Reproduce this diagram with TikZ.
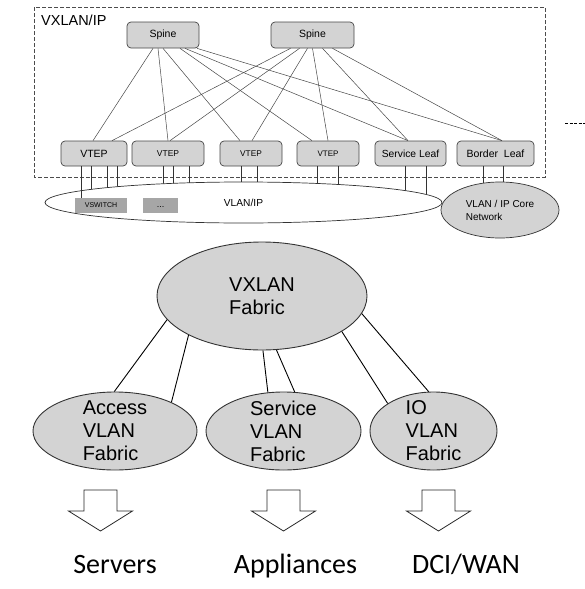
\documentclass[tikz,border=0pt]{standalone}
\usepackage{fontspec}
\setmainfont{Liberation Sans}
\newfontfamily\calibri{Carlito}
\usetikzlibrary{shapes.geometric}

\definecolor{boxgray}{RGB}{211,211,211}
\definecolor{swgray}{RGB}{166,166,166}
\definecolor{edgegray}{RGB}{70,70,70}
\newcommand{\fsz}[2]{\fontsize{#1}{#2}\selectfont}

\begin{document}
\begin{tikzpicture}[x=1pt, y=-1pt,
    switchbox/.style={draw=edgegray, fill=boxgray, rounded corners=4pt, inner sep=0pt, minimum height=26pt, line width=0.7pt},
    leafbox/.style={switchbox, minimum height=25pt},
    link/.style={draw=edgegray, line width=0.5pt},
    drop/.style={draw=black!80, line width=0.6pt},
    fabric/.style={ellipse, draw=black!80, fill=boxgray, line width=0.9pt, inner sep=0pt},
    fabtext/.style={align=left, font=\fsz{20}{23}},
    uplink/.style={draw=black, line width=0.9pt},
    bigarrow/.style={draw=black!85, fill=white, line width=0.8pt},
  ]
  \useasboundingbox (0,0) rectangle (585,589);

  % VXLAN/IP underlay
  \draw[draw=black!70, dash pattern=on 4pt off 2pt, line width=0.7pt] (34,7) rectangle (545,177);
  \node[anchor=base west, inner sep=0pt, font=\fsz{14.5}{16}] (title) at (41,25) {VXLAN/IP};
  \coordinate (cutA) at (565,123);
  \coordinate (cutB) at (585,123);
  \draw[dash pattern=on 3pt off 1.5pt, line width=0.7pt] (cutA) -- (cutB);

  \node[switchbox, minimum width=72pt, font=\fsz{10.5}{12}] (spineA) at (163,35) {Spine};
  \node[switchbox, minimum width=83pt, font=\fsz{10.5}{12}] (spineB) at (312.5,35) {Spine};

  \node[leafbox, minimum width=66pt, font=\fsz{10.5}{12}] (vtepA) at (94,153.5) {VTEP};
  \node[leafbox, minimum width=72pt, font=\fsz{8.5}{10}] (vtepB) at (168,153.5) {VTEP};
  \node[leafbox, minimum width=62pt, font=\fsz{8.3}{10}] (vtepC) at (251,153.5) {VTEP};
  \node[leafbox, minimum width=62pt, font=\fsz{8}{10}] (vtepD) at (328,153.5) {VTEP};
  \node[leafbox, minimum width=71pt, font=\fsz{10.3}{12}] (svcleaf) at (410.5,153.5) {Service Leaf};
  \node[leafbox, minimum width=77pt, font=\fsz{10.5}{12}] (bdrleaf) at (495.5,153.5) {Border~~Leaf};

  % full mesh spine -> leaf
  \foreach \leaf/\sa/\la/\sb/\lb in {vtepA/-10/-1/-22/18, vtepB/-5/0/-13/2, vtepC/0/-11/-5/1,
      vtepD/17/-16/0/0, svcleaf/22/-2.5/10/-2.5, bdrleaf/34/6.5/20/6.5} {
    \draw[link] ([xshift=\sa pt]spineA.south) -- ([xshift=\la pt]\leaf.north);
    \draw[link] ([xshift=\sb pt]spineB.south) -- ([xshift=\lb pt]\leaf.north);
  }

  % access ports, cut off by the ellipses below
  \coordinate (vlanc) at (243.5,202.5);
  \coordinate (corec) at (500,210);
  \foreach \leaf/\dx in {vtepA/-3, vtepA/13, vtepA/23, vtepB/-5, vtepB/5, vtepB/21,
      vtepC/-10, vtepC/6, vtepD/-11, vtepD/10, svcleaf/-5.5, svcleaf/15.5}
    \draw[drop] ([xshift=\dx pt]\leaf.south) -- ([xshift=\dx pt]\leaf.south |- vlanc);
  \foreach \dx in {-12.5, 7.5}
    \draw[drop] ([xshift=\dx pt]bdrleaf.south) -- ([xshift=\dx pt]bdrleaf.south |- corec);

  \node[ellipse, draw=black!80, fill=white, line width=0.7pt, inner sep=0pt,
    minimum width=397pt, minimum height=41pt, font=\fsz{10.2}{12}] (vlan) at (vlanc) {VLAN/IP};
  \node[fill=swgray, inner sep=0pt, minimum width=52pt, minimum height=15pt,
    font=\fsz{7}{8}] (vswitch) at (101,205.5) {VSWITCH};
  \node[fill=swgray, inner sep=0pt, minimum width=35pt, minimum height=15pt,
    font=\fsz{9}{10}] (more) at (160.5,205.5) {\raisebox{-3pt}{...}};
  \draw[drop] ([xshift=-13pt]vtepA.south) -- ([xshift=-13pt]vtepA.south |- vswitch.north);
  \node[fabric, line width=0.7pt, minimum width=118pt, minimum height=56pt, align=left,
    font=\fsz{10}{13}] (core) at (corec) {VLAN / IP Core\\Network};

  % overlay fabrics
  \node[fabric, minimum width=210pt, minimum height=108pt, align=left,
    font=\fsz{20}{23}] (vxlan) at (262,296) {VXLAN\\Fabric};
  \node[fabric, minimum width=164pt, minimum height=78pt,
    label={[fabtext]center:Access\\VLAN\\Fabric}] (access) at (115,431) {};
  \node[fabric, minimum width=155pt, minimum height=78pt,
    label={[fabtext]center:Service\\VLAN\\Fabric}] (service) at (283.5,431) {};
  \node[fabric, minimum width=127pt, minimum height=78pt,
    label={[fabtext]center:IO\\VLAN\\Fabric}] (io) at (433.5,431) {};

  \draw[uplink] (vxlan.194.9) -- (access.91.4);
  \draw[uplink] (vxlan.208.7) -- (access.27.4);
  \draw[uplink] (vxlan.271) -- (service.112.9);
  \draw[uplink] (vxlan.285.3) -- (service.74.9);
  \draw[uplink] (vxlan.336.6) -- (io.149.6);
  \draw[uplink] (vxlan.350.8) -- (io.97.6);

  % hand-off arrows
  \foreach \ax in {100.5, 283.5, 438.5}
    \draw[bigarrow] (\ax-16.5,490) -- (\ax+16.5,490) -- (\ax+16.5,511) -- (\ax+32,511)
      -- (\ax,531) -- (\ax-32,511) -- (\ax-16.5,511) -- cycle;

  \node[anchor=base, font=\calibri\fsz{28}{30}] (servers) at (115,573) {Servers};
  \node[anchor=base, font=\calibri\fsz{28}{30}] (appl) at (295.5,573) {Appliances};
  \node[anchor=base, font=\calibri\fsz{28}{30}] (dci) at (466,573) {DCI/WAN};
\end{tikzpicture}
\end{document}
